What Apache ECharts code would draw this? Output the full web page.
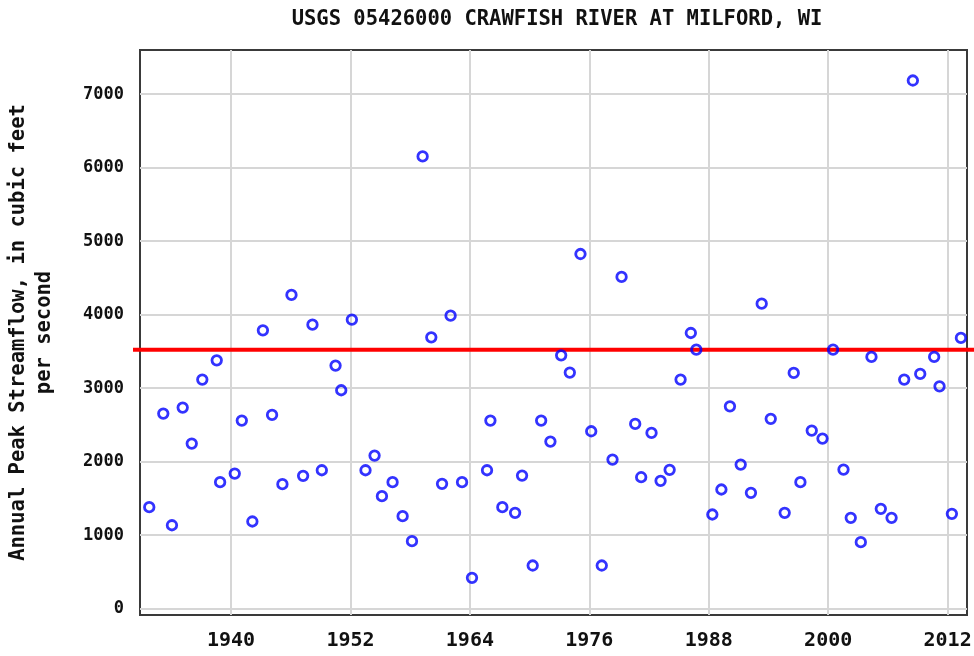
<!DOCTYPE html>
<html>
<head>
<meta charset="utf-8">
<script src="https://cdn.jsdelivr.net/npm/echarts@6/dist/echarts.min.js"></script>
<style>html,body{margin:0;padding:0;background:#fff}#c{width:974px;height:656px}</style>
</head>
<body>
<div id="c"></div>
<script>
const titleText = 'USGS 05426000 CRAWFISH RIVER AT MILFORD, WI';
const yAxisTitle = 'Annual Peak Streamflow, in cubic feet\nper second';
const years = [1931.78, 1933.19, 1934.06, 1935.14, 1936.05, 1937.11, 1938.56, 1938.90, 1940.37, 1941.08,
  1942.14, 1943.20, 1944.12, 1945.16, 1946.07, 1947.24, 1948.18, 1949.12, 1950.50, 1951.07,
  1952.14, 1953.51, 1954.42, 1955.16, 1956.23, 1957.24, 1958.18, 1959.25, 1960.12, 1961.20,
  1962.06, 1963.21, 1964.21, 1965.72, 1966.06, 1967.26, 1968.54, 1969.24, 1970.31, 1971.16,
  1972.09, 1973.17, 1974.04, 1975.11, 1976.19, 1977.25, 1978.33, 1979.24, 1980.61, 1981.21,
  1982.25, 1983.16, 1984.07, 1985.17, 1986.20, 1986.75, 1988.36, 1989.27, 1990.13, 1991.21,
  1992.24, 1993.32, 1994.23, 1995.63, 1996.54, 1997.21, 1998.35, 1999.43, 2000.49, 2001.54,
  2002.27, 2003.28, 2004.35, 2005.29, 2006.37, 2007.64, 2008.51, 2009.25, 2010.65, 2011.19,
  2012.43, 2013.34];
const peaks = [1381, 2655, 1136, 2736, 2247, 3117, 3379, 1721, 1839, 2559,
  1187, 3787, 2637, 1694, 4268, 1808, 3864, 1884, 3307, 2972,
  3932, 1884, 2084, 1531, 1721, 1259, 919, 6152, 3692, 1699,
  3987, 1721, 421, 1884, 2559, 1381, 1305, 1812, 588, 2559,
  2274, 3447, 3212, 4825, 2414, 588, 2029, 4513, 2514, 1789,
  2392, 1740, 1889, 3117, 3751, 3524, 1282, 1622, 2754, 1961,
  1577, 4150, 2583, 1305, 3208, 1721, 2424, 2315, 3524, 1893,
  1237, 905, 3425, 1359, 1237, 3117, 7185, 3194, 3425, 3026,
  1291, 3684];
const refLine = 3524;
const xTicks = [1940, 1952, 1964, 1976, 1988, 2000, 2012];
const yTicks = [0, 1000, 2000, 3000, 4000, 5000, 6000, 7000];
const xRange = [1930.85, 2013.95];
const yRange = [-85, 7600];

const FONT = '"DejaVu Sans Mono", monospace';
const chart = echarts.init(document.getElementById('c'), null, {renderer: 'canvas'});
chart.setOption({
  animation: false,
  backgroundColor: '#ffffff',
  title: {
    text: titleText, left: 552, top: 4, textAlign: 'center',
    textStyle: {fontFamily: FONT, fontWeight: 'bold', fontSize: 20.5, color: '#111'}
  },
  grid: [
    {left: 140, top: 50, right: 7, bottom: 41, outerBoundsMode: 'none', containLabel: false,
     show: true, borderColor: '#3a3a3a', borderWidth: 2, backgroundColor: 'transparent'},
    {left: 133, top: 50, right: 0, bottom: 41, outerBoundsMode: 'none', containLabel: false, show: false}
  ],
  xAxis: [{
    type: 'value', min: xRange[0], max: xRange[1], gridIndex: 0,
    axisLine: {show: false}, axisTick: {show: false, customValues: xTicks},
    axisLabel: {customValues: xTicks, margin: 16, formatter: v => String(v),
      fontFamily: FONT, fontWeight: 'bold', fontSize: 20, color: '#111'},
    splitLine: {show: true, lineStyle: {color: '#d6d6d6', width: 2}}
  }, {
    type: 'value', min: 0, max: 1, gridIndex: 1, show: false
  }],
  yAxis: [{
    type: 'value', min: yRange[0], max: yRange[1], gridIndex: 0,
    name: yAxisTitle, nameLocation: 'middle', nameRotate: 90, nameGap: 82,
    nameTextStyle: {fontFamily: FONT, fontWeight: 'bold', fontSize: 20.5, color: '#111', lineHeight: 26, align: 'center'},
    axisLine: {show: false}, axisTick: {show: false, customValues: yTicks},
    axisLabel: {customValues: yTicks, margin: 16, formatter: v => String(v),
      fontFamily: FONT, fontWeight: 'bold', fontSize: 17, color: '#111'},
    splitLine: {show: true, lineStyle: {color: '#d6d6d6', width: 2}}
  }, {
    type: 'value', min: yRange[0], max: yRange[1], gridIndex: 1, show: false
  }],
  series: [{
    type: 'line', xAxisIndex: 1, yAxisIndex: 1,
    data: [[0, refLine], [1, refLine]],
    symbol: 'none', lineStyle: {color: '#ff0000', width: 4}, silent: true, z: 3
  }, {
    type: 'scatter', xAxisIndex: 0, yAxisIndex: 0,
    data: years.map((y, i) => [y, peaks[i]]),
    symbol: 'circle', symbolSize: 9.5,
    itemStyle: {color: 'rgba(255,255,255,0)', borderColor: '#0000ff', borderWidth: 2.8},
    z: 4
  }]
});
</script>
</body>
</html>
